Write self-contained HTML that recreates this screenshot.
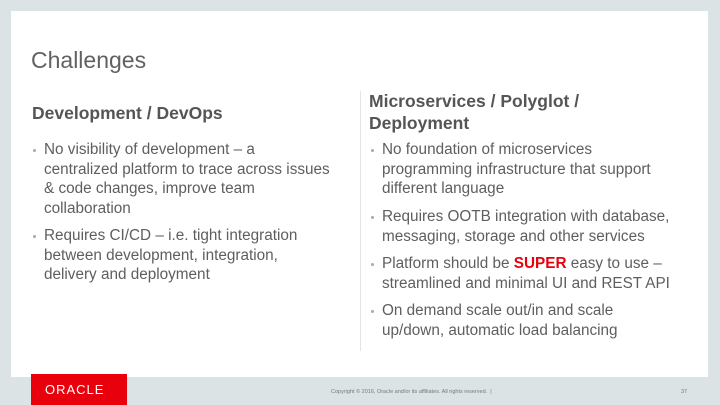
<!DOCTYPE html>
<html><head><meta charset="utf-8"><style>
*{margin:0;padding:0}
body{width:720px;height:405px;background:#dce3e5;position:relative;overflow:hidden;font-family:"Liberation Sans",sans-serif;color:#5a5a5a}
.panel{position:absolute;left:11px;top:11px;width:697px;height:366px;background:#fff}
.t{position:absolute;white-space:nowrap}
.title{left:31px;top:47px;font-size:23px;color:#616161}
.h{font-weight:bold;font-size:17.5px;color:#555;line-height:22px}
.b{font-size:15.3px;line-height:19.5px;color:#5e5e5e}
.dot{position:absolute;width:3px;height:3px;border-radius:50%;background:#aaa}
.div{position:absolute;left:360px;top:91px;width:1px;height:260px;background:#e4e4e4}
.logo{position:absolute;left:31px;top:374px;width:96px;height:31px;background:#e8000c}
</style></head><body>
<div class="panel"></div>
<div class="t title">Challenges</div>
<div class="t h" style="left:32px;top:102px">Development / DevOps</div>
<div class="dot" style="left:33px;top:149px"></div>
<div class="t b" style="left:44px;top:140px">No visibility of development – a<br>centralized platform to trace across issues<br>&amp; code changes, improve team<br>collaboration</div>
<div class="dot" style="left:33px;top:235px"></div>
<div class="t b" style="left:44px;top:226px">Requires CI/CD – i.e. tight integration<br>between development, integration,<br>delivery and deployment</div>
<div class="div"></div>
<div class="t h" style="left:369px;top:90px">Microservices / Polyglot /<br>Deployment</div>
<div class="dot" style="left:371px;top:149px"></div>
<div class="t b" style="left:382px;top:140px">No foundation of microservices<br>programming infrastructure that support<br>different language</div>
<div class="dot" style="left:371px;top:216px"></div>
<div class="t b" style="left:382px;top:207px">Requires OOTB integration with database,<br>messaging, storage and other services</div>
<div class="dot" style="left:371px;top:263px"></div>
<div class="t b" style="left:382px;top:254px">Platform should be <b style="color:#e8000c">SUPER</b> easy to use –<br>streamlined and minimal UI and REST API</div>
<div class="dot" style="left:371px;top:310px"></div>
<div class="t b" style="left:382px;top:301px">On demand scale out/in and scale<br>up/down, automatic load balancing</div>
<div class="logo"><div class="t" style="left:14px;top:8px;color:#fff;font-size:13px;letter-spacing:1px">ORACLE</div></div>
<div class="t" style="left:331px;top:389px;font-size:5.5px;color:#777">Copyright © 2016, Oracle and/or its affiliates. All rights reserved. &nbsp;|</div>
<div class="t" style="left:681px;top:389px;font-size:5.5px;color:#777">37</div>
</body></html>
